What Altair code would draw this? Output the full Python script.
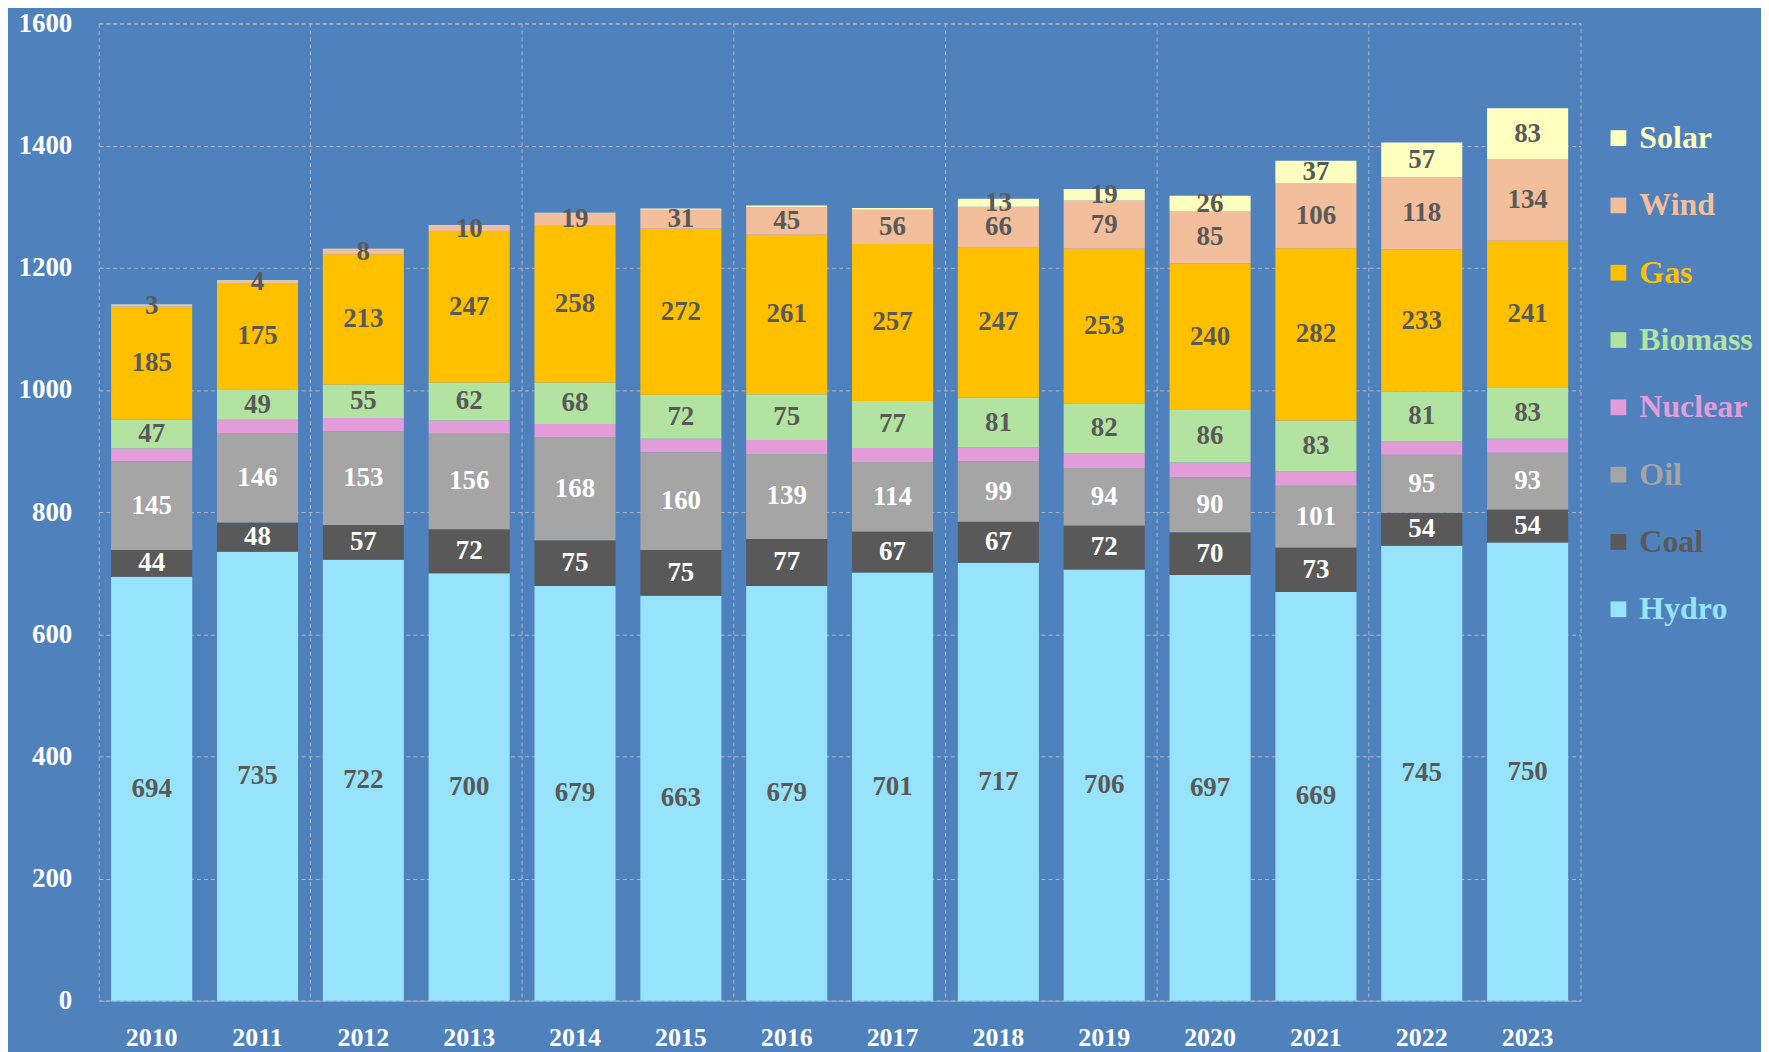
import altair as alt
import pandas as pd

years = [str(y) for y in range(2010, 2024)]
hydro = [694, 735, 722, 700, 679, 663, 679, 701, 717, 706, 697, 669, 745, 750]
coal = [44, 48, 57, 72, 75, 75, 77, 67, 67, 72, 70, 73, 54, 54]
oil = [145, 146, 153, 156, 168, 160, 139, 114, 99, 94, 90, 101, 95, 93]
nuclear = [21, 22, 22, 22, 22, 22, 23, 23, 23, 24, 24, 24, 22, 23]
biomass = [47, 49, 55, 62, 68, 72, 75, 77, 81, 82, 86, 83, 81, 83]
gas = [185, 175, 213, 247, 258, 272, 261, 257, 247, 253, 240, 282, 233, 241]
wind = [3, 4, 8, 10, 19, 31, 45, 56, 66, 79, 85, 106, 118, 134]
solar = [1, 1, 1, 1, 1, 2, 3, 3, 13, 19, 26, 37, 57, 83]

series_names = ["Hydro", "Coal", "Oil", "Nuclear", "Biomass", "Gas", "Wind", "Solar"]
series_values = [hydro, coal, oil, nuclear, biomass, gas, wind, solar]
series_colors = ["#97E3FC", "#595959", "#A5A5A5", "#E39CDA", "#B2E3A0", "#FFC000", "#F3BE9C", "#FFFFBF"]

rows = []
for i, (name, vals) in enumerate(zip(series_names, series_values)):
    for yr, v in zip(years, vals):
        show = (name != "Nuclear") and not (name == "Solar" and v < 10)
        rows.append(dict(year=yr, series=name, value=v, order=i, show=show))
df = pd.DataFrame(rows)

legend_order = series_names[::-1]
legend_colors = series_colors[::-1]
color_expr = " : ".join(f"datum.label == '{n}' ? '{c}'" for n, c in zip(legend_order, legend_colors)) + " : 'white'"

FONT = "Liberation Serif"
W, H = 1486, 980
PAD_IN, PAD_OUT = 0.234, 0.117
step = W / (len(years) - PAD_IN + 2 * PAD_OUT)
GRID = "#A9B6CC"

xscale = alt.Scale(domain=years, paddingInner=PAD_IN, paddingOuter=PAD_OUT)

x_axis = alt.Axis(title=None, labelAngle=0, labelColor="white", labelFont=FONT,
                  labelFontWeight="bold", labelFontSize=26, labelPadding=24,
                  ticks=False, domainColor="#A6A6A6", grid=False, bandPosition=0.5)
y_axis = alt.Axis(title=None, values=list(range(0, 1601, 200)), format="d",
                  labelColor="white", labelFont=FONT, labelFontWeight="bold",
                  labelFontSize=27, labelPadding=27, ticks=False, domain=False,
                  gridColor=GRID, gridDash=[4, 3], gridWidth=1)

bars = alt.Chart(df).mark_bar().encode(
    x=alt.X("year:N", scale=xscale, axis=x_axis),
    y=alt.Y("value:Q", stack="zero", scale=alt.Scale(domain=[0, 1600]), axis=y_axis),
    color=alt.Color("series:N",
                    scale=alt.Scale(domain=legend_order, range=legend_colors),
                    legend=alt.Legend(title=None, orient="none", legendX=1508, legendY=99,
                                      symbolType="square", symbolSize=250,
                                      symbolStrokeWidth=0, labelFont=FONT,
                                      labelFontWeight="bold", labelFontSize=32,
                                      rowPadding=35.5, labelOffset=5,
                                      labelColor=alt.ExprRef(expr=color_expr))),
    order=alt.Order("order:Q"),
)

labels = alt.Chart(df).transform_stack(
    stack="value", groupby=["year"], as_=["v0", "v1"],
    sort=[alt.SortField("order", order="ascending")]
).transform_calculate(
    mid="(datum.v0 + datum.v1) / 2"
).transform_filter("datum.show").mark_text(
    font=FONT, fontWeight="bold", fontSize=27, baseline="middle"
).encode(
    x=alt.X("year:N", scale=xscale),
    y=alt.Y("mid:Q"),
    text=alt.Text("value:Q", format="d"),
    color=alt.condition("datum.series == 'Coal' || datum.series == 'Oil'",
                        alt.value("white"), alt.value("#595959")),
)

grid_years = years[2::2]
rules = alt.Chart(pd.DataFrame({"year": grid_years})).mark_rule(
    color=GRID, strokeDash=[4, 3], strokeWidth=1, xOffset=-(PAD_IN / 2) * step
).encode(x=alt.X("year:N", scale=xscale, bandPosition=0))

chart = alt.layer(bars, labels, rules).properties(
    width=W, height=H, background="#4F81BD",
    padding={"left": 10, "top": 0, "right": 8, "bottom": 0},
).configure_view(stroke=GRID, strokeDash=[4, 3])

chart.save("out.html", embed_options={"renderer": "svg", "actions": False})
